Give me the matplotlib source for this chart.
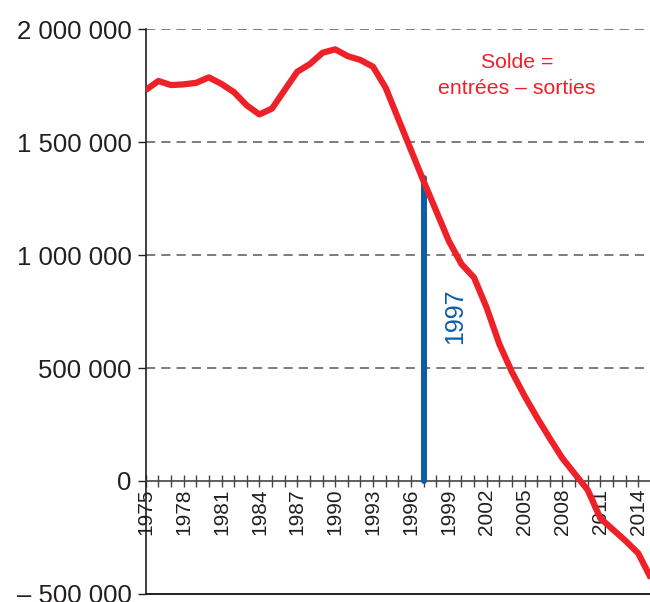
import matplotlib
matplotlib.use('Agg')
import matplotlib.pyplot as plt
from matplotlib.ticker import MultipleLocator, FixedLocator

years = list(range(1975, 2016))
solde = [1730000, 1770000, 1752000, 1755000, 1762000, 1786000, 1757000,
         1720000, 1662000, 1622000, 1648000, 1730000, 1811000, 1845000,
         1895000, 1910000, 1880000, 1863000, 1833000, 1740000, 1602000,
         1465000, 1327000, 1195000, 1062000, 960000, 900000, 766000,
         606000, 482000, 376000, 279000, 188000, 100000, 30000, -40000,
         -165000, -215000, -265000, -320000, -430000]

labelled_years = years[:-1:3]

marker_year = 1997
marker_top = 1340000

ytick_values = [-500000, 0, 500000, 1000000, 1500000, 2000000]
ytick_labels = ['\u2013 500 000', '0', '500 000', '1 000 000', '1 500 000', '2 000 000']
grid_values = [500000, 1000000, 1500000, 2000000]

RED = '#ee2129'
BLUE = '#0b5ca9'
DARK = '#231f20'
GRAY = '#58595b'

plt.rcParams['font.family'] = ['Liberation Sans', 'DejaVu Sans']

fig = plt.figure(figsize=(6.5, 6.02), dpi=100)
ax = fig.add_axes([0.2242, 0.0133, 1 - 0.2242, 0.9518 - 0.0133])
ax.set_xlim(1975, 2014.93)
ax.set_ylim(-500000, 2000000)

# grid lines
for v in grid_values:
    ax.axhline(v, color=GRAY, lw=1.1, dashes=(6, 4), zorder=1)
ax.axhline(-500000, color=DARK, lw=1.4, zorder=2, clip_on=False)

# spines: bottom spine moved to zero, carries year ticks
for s in ['top', 'right']:
    ax.spines[s].set_visible(False)
ax.spines['left'].set_color(DARK)
ax.spines['left'].set_linewidth(1.2)
ax.spines['bottom'].set_position(('data', 0))
ax.spines['bottom'].set_color('#444444')
ax.spines['bottom'].set_linewidth(1.2)

ax.xaxis.set_major_locator(FixedLocator(labelled_years))
ax.xaxis.set_minor_locator(MultipleLocator(1))
ax.tick_params(axis='x', which='both', direction='inout', length=9,
               width=1.0, color='#444444')
ax.tick_params(axis='x', which='major', labelsize=15, labelrotation=90,
               pad=1, labelcolor=DARK)
ax.xaxis.set_major_formatter(plt.FuncFormatter(lambda v, p: '%d' % v))

ax.yaxis.set_major_locator(FixedLocator(ytick_values))
ax.set_yticklabels(ytick_labels)
ax.tick_params(axis='y', direction='out', length=6, width=1.0,
               color=DARK, labelsize=18.5, labelcolor=DARK, pad=4)

# 1997 marker
ax.plot([marker_year, marker_year], [0, marker_top], color=BLUE, lw=4.3,
        solid_capstyle='round', zorder=3)
ax.text(1999.5, 727000, str(marker_year), rotation=90, color=BLUE,
        fontsize=18, ha='center', va='center')

# solde curve
ax.plot(years, solde, color=RED, lw=4.5, solid_joinstyle='round',
        solid_capstyle='butt', zorder=4)

ax.text(0.736, 0.918, 'Solde =\nentr\u00e9es \u2013 sorties', transform=ax.transAxes,
        color=RED, fontsize=15.3, ha='center', va='center', linespacing=1.45)

fig.savefig('out.png', dpi=100)
